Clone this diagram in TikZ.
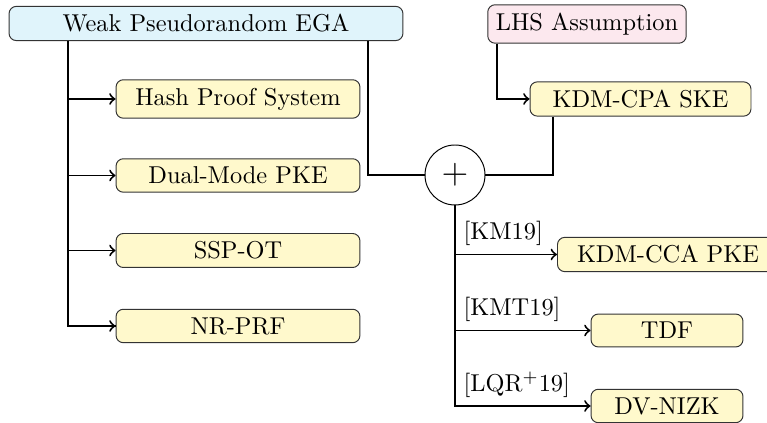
\documentclass[tikz,border=0pt]{standalone}
\usetikzlibrary{positioning}
\definecolor{egablue}{HTML}{E0F4FB}
\definecolor{lhspink}{HTML}{FCE8EE}
\definecolor{resyellow}{HTML}{FFF9CC}
\tikzset{
    box/.style={draw=black!80,rounded corners=3pt},
    res/.style={box,fill=resyellow},
    conn/.style={thick},
    arr/.style={thick,->},
    cite/.style={anchor=south west}
}
\begin{document}
\begin{tikzpicture}[x=0.41pt,y=-0.41pt]
        \useasboundingbox (0,0) rectangle (767,423);
        \clip (0,0) rectangle (767,423);
        % assumptions
        \node [box,fill=egablue,minimum width=161.5pt] (ega) at (206,23.5) {Weak Pseudorandom EGA};
        \node [box,fill=lhspink] (lhs) at (587,24) {LHS Assumption};
        % left column
        \node [res,minimum width=100pt] (hps) at (238,99) {Hash Proof System};
        \node [res,minimum width=100pt] (dual) at (238,175.5) {Dual-Mode PKE};
        \node [res,minimum width=100pt] (ssp) at (238,250.5) {SSP-OT};
        \node [res,minimum width=100pt] (prf) at (238,326) {NR-PRF};
        % right column
        \node [res,minimum width=90.6pt] (cpa) at (640.5,99) {KDM-CPA SKE};
        \node [draw,circle,thin,minimum size=24.6pt,inner sep=0pt] (plus) at (455,175) {\Large $+$};
        \node [res,minimum width=90.6pt,anchor=west] (cca) at (557,254.5) {KDM-CCA PKE};
        \node [res,minimum width=62.3pt] (tdf) at (667,330.5) {TDF};
        \node [res,minimum width=62.3pt] (nizk) at (667,406) {DV-NIZK};
        % left tree
        \coordinate (lt) at ([xshift=59*0.41pt]ega.south west);
        \draw [conn] (lt) |- (prf.west);
        \draw [arr] (lt |- prf.west) -- (prf.west);
        \draw [arr] (lt |- hps.west) -- (hps.west);
        \draw [arr] (lt |- dual.west) -- (dual.west);
        \draw [arr] (lt |- ssp.west) -- (ssp.west);
        % into the circle
        \coordinate (rt) at ([xshift=-35*0.41pt]ega.south east);
        \draw [conn] (rt) |- (plus.west);
        \draw [arr] ([xshift=10*0.41pt]lhs.south west) |- (cpa.west);
        \draw [conn] ([xshift=23*0.41pt]cpa.south west) |- (plus.east);
        % out of the circle
        \draw [arr] (plus.south) |- (nizk.west);
        \draw [arr] (plus.south |- cca.west) -- (cca.west);
        \draw [arr] (plus.south |- tdf.west) -- (tdf.west);
        \node [cite] (km) at (plus.south |- cca.west) {[KM19]};
        \node [cite] (kmt) at (plus.south |- tdf.west) {[KMT19]};
        \node [cite] (lqr) at (plus.south |- nizk.west) {[LQR$^+$19]};
    \end{tikzpicture}
\end{document}
